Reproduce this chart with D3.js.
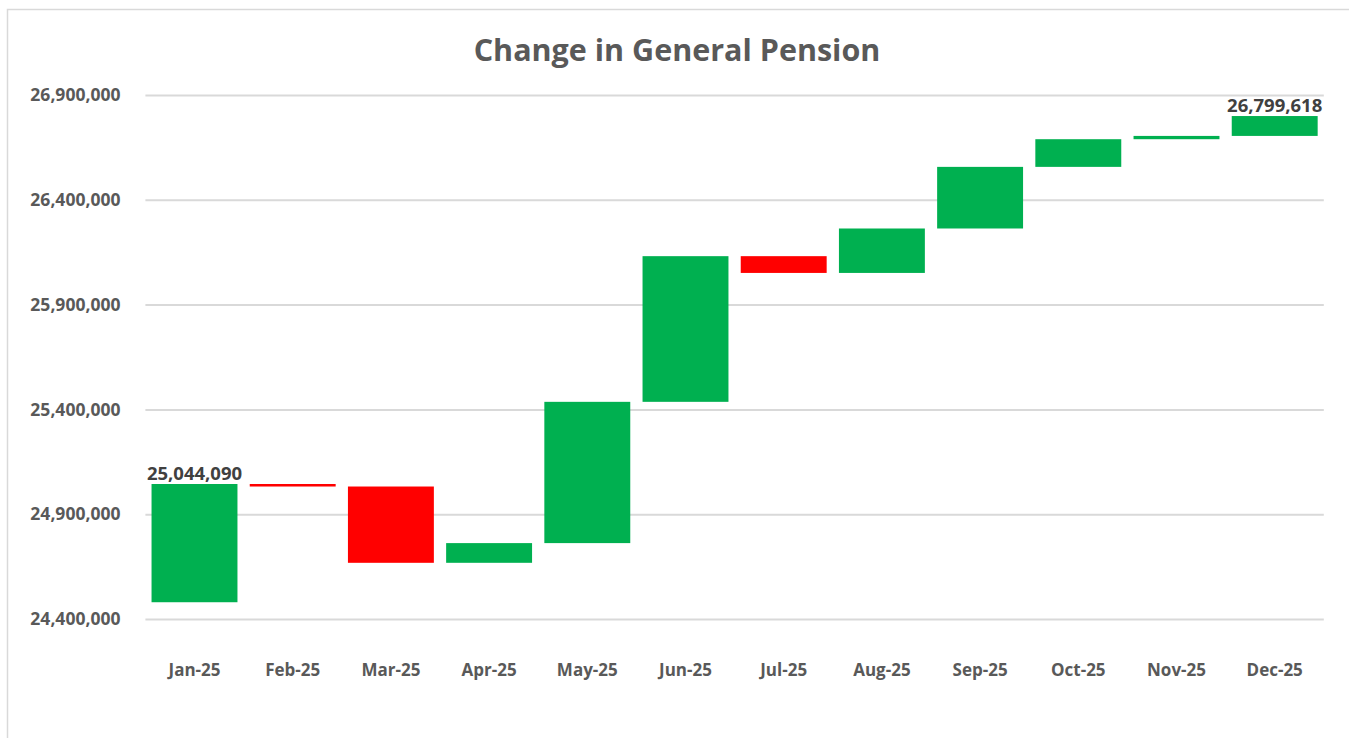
<!DOCTYPE html>
<html>
<head>
<meta charset="utf-8">
<script src="https://cdn.jsdelivr.net/npm/d3@7"></script>
<style>
  body { margin: 0; background: #fff; }
  text { font-family: "Open Sans", "Noto Sans", sans-serif; font-weight: bold; }
</style>
</head>
<body>
<div id="chart"></div>
<script>
// months shown on the category axis
var months = ["Jan-25", "Feb-25", "Mar-25", "Apr-25", "May-25", "Jun-25",
              "Jul-25", "Aug-25", "Sep-25", "Oct-25", "Nov-25", "Dec-25"];
// level before Jan-25 and the monthly changes
var startValue = 24480000;
var changes = [564090, -12000, -364000, 94000, 674000, 695000,
               -80000, 212000, 294000, 132000, 15700, 94828];
var yTicks = [24400000, 24900000, 25400000, 25900000, 26400000, 26900000];
// which bars carry a value label
var labelled = ["Jan-25", "Dec-25"];

var W = 1349, H = 738;
var svg = d3.select("#chart").append("svg")
	.attr("width", W)
	.attr("height", H);

// chart frame
svg.append("rect")
	.attr("x", 7.5).attr("y", 9.5)
	.attr("width", W + 20).attr("height", H + 20)
	.attr("fill", "#fff")
	.attr("stroke", "#d9d9d9")
	.attr("stroke-width", 1.5);

var x = d3.scaleBand()
	.domain(months)
	.range([145.4, 1323.8])
	.paddingInner(0.125)
	.paddingOuter(0.0625);
var y = d3.scaleLinear()
	.domain([24400000, 26900000])
	.range([619, 95]);

// running totals -> floating bars
var level = startValue;
var bars = months.map(function(m, i) {
	var from = level;
	level = level + changes[i];
	return {month: m, from: from, to: level, delta: changes[i]};
});

svg.append("text")
	.attr("x", 677).attr("y", 61)
	.attr("text-anchor", "middle")
	.attr("fill", "#595959")
	.style("font-size", "30.5px")
	.text("Change in General Pension");

// y axis: labels + gridlines, no domain line
var yAxis = d3.axisLeft(y)
	.tickValues(yTicks)
	.tickSize(-(1323.8 - 145.4))
	.tickPadding(25)
	.tickFormat(d3.format(","));
var gy = svg.append("g")
	.attr("transform", "translate(145.4,0)")
	.call(yAxis);
gy.select(".domain").remove();
gy.selectAll(".tick line").attr("stroke", "#d9d9d9").attr("stroke-width", 2);
gy.selectAll(".tick text")
	.attr("fill", "#595959")
	.style("font-size", "17.5px");

// x axis labels only
var xAxis = d3.axisBottom(x).tickSize(0).tickPadding(45);
var gx = svg.append("g")
	.attr("transform", "translate(0,619)")
	.call(xAxis);
gx.select(".domain").remove();
gx.selectAll(".tick text")
	.attr("fill", "#595959")
	.style("font-size", "17px");

svg.selectAll(".bar")
	.data(bars)
	.enter().append("rect")
	.attr("class", "bar")
	.attr("x", function(d) { return x(d.month); })
	.attr("width", x.bandwidth())
	.attr("y", function(d) { return y(Math.max(d.from, d.to)); })
	.attr("height", function(d) { return Math.max(2.5, Math.abs(y(d.from) - y(d.to))); })
	.attr("fill", function(d) { return d.delta >= 0 ? "#00b050" : "#ff0000"; });

svg.selectAll(".lbl")
	.data(bars.filter(function(d) { return labelled.indexOf(d.month) >= 0; }))
	.enter().append("text")
	.attr("class", "lbl")
	.attr("x", function(d) { return x(d.month) + x.bandwidth() / 2; })
	.attr("y", function(d) { return y(d.to) - 4; })
	.attr("text-anchor", "middle")
	.attr("fill", "#404040")
	.style("font-size", "18.5px")
	.text(function(d) { return d3.format(",")(d.to); });
</script>
</body>
</html>
